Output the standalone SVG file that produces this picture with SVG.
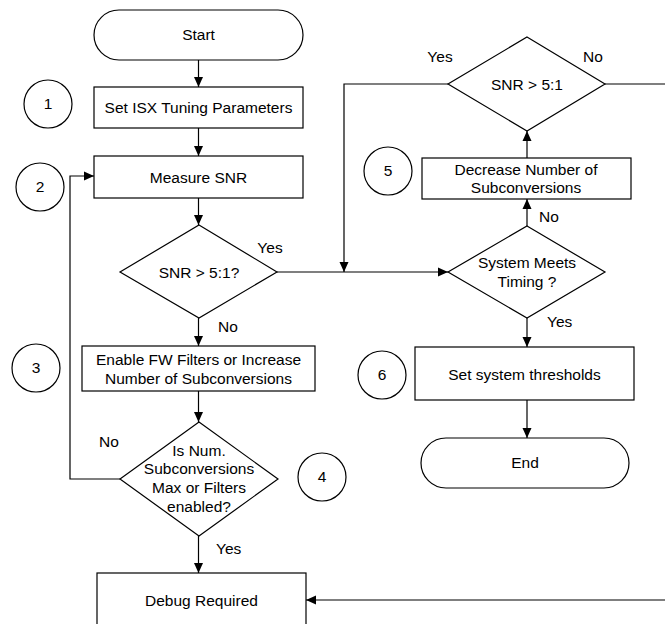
<svg xmlns="http://www.w3.org/2000/svg" width="665" height="624" viewBox="0 0 665 624">
<style>
.s{fill:#fff;stroke:#000;stroke-width:1.2}
.c{fill:none;stroke:#000;stroke-width:1.2}
text{font-family:"Liberation Sans",Arial,sans-serif;font-size:15.5px;fill:#000}
.m{text-anchor:middle}
</style>
<defs>
<marker id="a" viewBox="0 0 10 10" refX="10" refY="5" markerWidth="10" markerHeight="10" markerUnits="userSpaceOnUse" orient="auto">
<path d="M0,0.5 L10,5 L0,9.5 Z" fill="#000"/>
</marker>
</defs>
<rect width="665" height="624" fill="#fff"/>
<g id="connectors">
<line class="c" x1="198.5" y1="60" x2="198.5" y2="87" marker-end="url(#a)"/>
<line class="c" x1="198.5" y1="128" x2="198.5" y2="156" marker-end="url(#a)"/>
<line class="c" x1="198.5" y1="198" x2="198.5" y2="225" marker-end="url(#a)"/>
<line class="c" x1="198.5" y1="318" x2="198.5" y2="346" marker-end="url(#a)"/>
<line class="c" x1="198.5" y1="391" x2="198.5" y2="422" marker-end="url(#a)"/>
<line class="c" x1="198.5" y1="536" x2="198.5" y2="573" marker-end="url(#a)"/>
<polyline class="c" points="120,479 70,479 70,176 94,176" marker-end="url(#a)"/>
<line class="c" x1="277" y1="272" x2="448" y2="272" marker-end="url(#a)"/>
<polyline class="c" points="448,84 344,84 344,272" marker-end="url(#a)"/>
<line class="c" x1="527" y1="226" x2="527" y2="199" marker-end="url(#a)"/>
<line class="c" x1="527" y1="158" x2="527" y2="131" marker-end="url(#a)"/>
<line class="c" x1="527" y1="318" x2="527" y2="347" marker-end="url(#a)"/>
<line class="c" x1="527" y1="400" x2="527" y2="438" marker-end="url(#a)"/>
<polyline class="c" points="605,84 667,84 667,600 306,600" marker-end="url(#a)"/>
</g>
<g id="start"><rect class="s" x="94" y="10" width="209" height="50" rx="25"/><text class="m" x="198.5" y="40">Start</text></g>
<g id="setisx"><rect class="s" x="94" y="87" width="209" height="41"/><text class="m" x="198.5" y="113">Set ISX Tuning Parameters</text></g>
<g id="measure"><rect class="s" x="94" y="156" width="209" height="42"/><text class="m" x="198.5" y="183">Measure SNR</text></g>
<g id="dec1"><polygon class="s" points="199,225 277,272 199,318 120,272"/><text class="m" x="199" y="278">SNR &gt; 5:1?</text><text class="m" x="270" y="253">Yes</text><text x="218" y="332">No</text></g>
<g id="enable"><rect class="s" x="82" y="346" width="233" height="45"/><text class="m" x="198.5" y="365">Enable FW Filters or Increase</text><text class="m" x="198.5" y="384">Number of Subconversions</text></g>
<g id="dec2"><polygon class="s" points="199,422 278,479 199,536 120,479"/><text class="m" x="199" y="456">Is Num.</text><text class="m" x="199" y="474">Subconversions</text><text class="m" x="199" y="493">Max or Filters</text><text class="m" x="199" y="512">enabled?</text><text class="m" x="109" y="447">No</text><text x="216" y="554">Yes</text></g>
<g id="debug"><rect class="s" x="97" y="573" width="209" height="60"/><text class="m" x="201.5" y="606">Debug Required</text></g>
<g id="dec3"><polygon class="s" points="527,37 605,84 527,131 448,84"/><text class="m" x="527" y="90">SNR &gt; 5:1</text><text class="m" x="440" y="62">Yes</text><text class="m" x="593" y="62">No</text></g>
<g id="decrease"><rect class="s" x="422" y="158" width="209" height="41"/><text class="m" x="526" y="175">Decrease Number of</text><text class="m" x="526" y="193">Subconversions</text></g>
<g id="dec4"><polygon class="s" points="527,226 605,272 527,318 448,272"/><text class="m" x="527" y="268">System Meets</text><text class="m" x="527" y="287">Timing ?</text><text x="539" y="222">No</text><text x="547" y="327">Yes</text></g>
<g id="thresholds"><rect class="s" x="415" y="347" width="219" height="53"/><text class="m" x="524.5" y="380">Set system thresholds</text></g>
<g id="end"><rect class="s" x="421" y="438" width="208" height="50" rx="25"/><text class="m" x="525" y="468">End</text></g>
<g id="c1"><circle class="s" cx="48" cy="104" r="24"/><text class="m" x="48" y="109">1</text></g>
<g id="c2"><circle class="s" cx="40" cy="187" r="24"/><text class="m" x="40" y="192">2</text></g>
<g id="c3"><circle class="s" cx="36" cy="368" r="24"/><text class="m" x="36" y="373">3</text></g>
<g id="c4"><circle class="s" cx="322" cy="477" r="24"/><text class="m" x="322" y="482">4</text></g>
<g id="c5"><circle class="s" cx="388" cy="171" r="24"/><text class="m" x="388" y="176">5</text></g>
<g id="c6"><circle class="s" cx="382" cy="375" r="24"/><text class="m" x="382" y="380">6</text></g>
</svg>
